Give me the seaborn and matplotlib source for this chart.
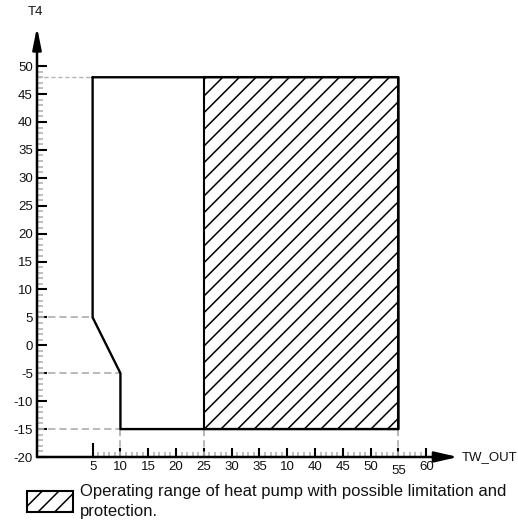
import matplotlib
matplotlib.use('Agg')
import matplotlib.pyplot as plt
import seaborn as sns
import pandas as pd
import numpy as np
from matplotlib.patches import Patch
from matplotlib.ticker import FixedLocator

sns.set_theme(style='white')
plt.rcParams['font.family'] = ['Liberation Sans', 'DejaVu Sans']
plt.rcParams['hatch.linewidth'] = 1.1
plt.rcParams['hatch.color'] = 'black'

# ---------------- data ----------------
x_tick_pos = [5, 10, 15, 20, 25, 30, 35, 40, 45, 50, 55, 60, 65]
x_tick_labels = ['5', '10', '15', '20', '25', '30', '35', '10', '40', '45', '50', '55', '60']
y_ticks = [-20, -15, -10, -5, 0, 5, 10, 15, 20, 25, 30, 35, 40, 45, 50]
y_tick_labels = [str(v) for v in y_ticks]

boundary_x = [5, 5, 10, 10, 60, 60, 5]
boundary_y = [48, 5, -5, -15, -15, 48, 48]

hatch_x = [25, 60]
hatch_bottom = -15
hatch_top = 48

guide_h_y = [5, -5, -15]
guide_h_xend = [5, 10, 10]
guide_top_y = 48
guide_top_xend = 5
guide_v_x = [10, 25, 60]

legend_text = 'Operating range of heat pump with possible limitation and\nprotection.'
x_label = 'TW_OUT'
y_label = 'T4'

x_min, x_max = -5, 70.7
y_min, y_max = -20, 57

# ---------------- figure ----------------
W, H = 518, 526
fig = plt.figure(figsize=(W / 100, H / 100), dpi=100)
ax = fig.add_axes([37 / W, 69 / H, 421 / W, 430 / H])
ax.set_xlim(x_min, x_max)
ax.set_ylim(y_min, y_max)
ax.set_facecolor('white')

gray = '#b3b3b3'
# guide lines
for gy, gx in zip(guide_h_y, guide_h_xend):
    ax.plot([x_min, gx], [gy, gy], color=gray, lw=1.3, dashes=(4, 2.2), zorder=1)
ax.plot([x_min, guide_top_xend], [guide_top_y, guide_top_y], color=gray, lw=1.0,
        dashes=(3, 2), zorder=1)
for gx in guide_v_x:
    ax.plot([gx, gx], [hatch_bottom, y_min], color=gray, lw=1.3, dashes=(4, 2.2), zorder=1)

# hatched region
ax.fill_between(hatch_x, hatch_bottom, hatch_top, facecolor='white', edgecolor='black',
                hatch='//', linewidth=1.5, zorder=2)

# boundary outline
df = pd.DataFrame({'x': boundary_x, 'y': boundary_y})
sns.lineplot(data=df, x='x', y='y', sort=False, estimator=None, color='black',
             lw=1.7, ax=ax, zorder=3)

# axes spines -> arrows
sns.despine(ax=ax, top=True, right=True, left=True, bottom=True)
a1 = ax.annotate('', xy=(x_max, y_min), xytext=(x_min, y_min),
                 arrowprops=dict(arrowstyle='-|>,head_length=14,head_width=3.2',
                                 mutation_scale=1, lw=1.8, color='black',
                                 shrinkA=0, shrinkB=0),
                 annotation_clip=False)
a2 = ax.annotate('', xy=(x_min, y_max), xytext=(x_min, y_min),
                 arrowprops=dict(arrowstyle='-|>,head_length=13,head_width=2.6',
                                 mutation_scale=1, lw=1.8, color='black',
                                 shrinkA=0, shrinkB=0),
                 annotation_clip=False)
a1.arrow_patch.set_clip_on(False)
a2.arrow_patch.set_clip_on(False)

# ticks
ax.set_xticks(x_tick_pos)
ax.set_xticklabels(x_tick_labels)
ax.set_yticks(y_ticks)
ax.set_yticklabels(y_tick_labels)
ax.xaxis.set_minor_locator(FixedLocator(np.arange(x_tick_pos[0], x_tick_pos[-1] + 1, 1)))
ax.yaxis.set_minor_locator(FixedLocator(np.arange(y_ticks[0], y_ticks[-1] + 1, 1)))

ax.tick_params(axis='x', which='major', direction='in', length=6.5, width=1.5,
               color='black', pad=3, labelsize=9.5, labelcolor='#111111', bottom=True)
ax.tick_params(axis='x', which='minor', direction='in', length=3.6, width=1.2,
               color=gray, bottom=True)
ax.tick_params(axis='y', which='major', direction='in', length=7, width=1.5,
               color='black', pad=3, labelsize=9.5, labelcolor='#111111', left=True)
ax.tick_params(axis='y', which='minor', direction='in', length=4, width=1.2,
               color=gray, left=True)

mticks = ax.xaxis.get_major_ticks()
mticks[11].set_pad(6)
mticks[0].tick1line.set_markersize(10)

# axis labels
ax.set_xlabel(x_label, fontsize=9.5, ha='left', va='center', color='#111111')
ax.xaxis.set_label_coords((462 - 37) / 421, 0)
ax.set_ylabel(y_label, fontsize=9.5, rotation=0, ha='center', va='center', color='#111111')
ax.yaxis.set_label_coords((35 - 37) / 421, (457 - 12) / 430)

# legend
handle = Patch(facecolor='white', edgecolor='black', hatch='//', linewidth=1.5)
leg = fig.legend([handle], [legend_text], loc='upper left',
                 bbox_to_anchor=(27 / W, 1 - 484 / H), frameon=False, fontsize=12,
                 handlelength=2.75, handleheight=1.55, handletextpad=0.42,
                 borderpad=0, borderaxespad=0)
for t in leg.get_texts():
    t.set_linespacing(1.4)
    t.set_color('#111111')

fig.savefig('out.png', dpi=100, facecolor='white')
